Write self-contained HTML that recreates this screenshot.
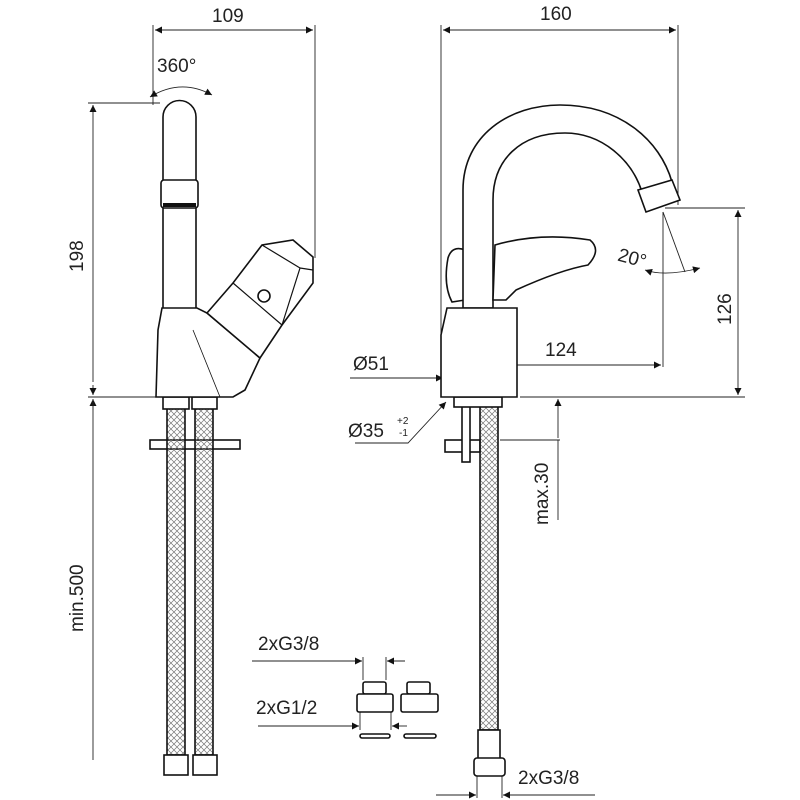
<!DOCTYPE html>
<html><head><style>html,body{margin:0;padding:0;background:#fff}svg{display:block}text{font-family:"Liberation Sans",sans-serif;fill:#222}</style></head>
<body>
<svg width="800" height="800" viewBox="0 0 800 800" xmlns="http://www.w3.org/2000/svg">
<defs>
<marker id="a" viewBox="0 0 10 10" refX="10" refY="5" markerWidth="10" markerHeight="7" orient="auto-start-reverse" markerUnits="userSpaceOnUse"><path d="M0,0L10,5L0,10z" fill="#111"/></marker>
<pattern id="br" width="6" height="6" patternUnits="userSpaceOnUse"><path d="M0,0L6,6M6,0L0,6" stroke="#777" stroke-width="0.7"/></pattern>
</defs>
<g stroke="#222" stroke-width="0.9" fill="none">
<line x1="153" y1="25" x2="153" y2="105"/><line x1="315" y1="25" x2="315" y2="258"/>
<line x1="155" y1="30" x2="313" y2="30" marker-start="url(#a)" marker-end="url(#a)"/>
<path d="M150,97 Q181,78 212,95" marker-start="url(#a)" marker-end="url(#a)"/>
<line x1="88" y1="103" x2="160" y2="103"/><line x1="88" y1="397" x2="160" y2="397"/>
<line x1="93" y1="105" x2="93" y2="382" marker-start="url(#a)"/>
<line x1="93" y1="385" x2="93" y2="395" marker-end="url(#a)"/>
<line x1="93" y1="399" x2="93" y2="410" marker-start="url(#a)"/>
<line x1="93" y1="400" x2="93" y2="760"/>
<line x1="441" y1="25" x2="441" y2="397"/><line x1="678" y1="25" x2="678" y2="205"/>
<line x1="443" y1="30" x2="676" y2="30" marker-start="url(#a)" marker-end="url(#a)"/>
<line x1="665" y1="208" x2="745" y2="208"/><line x1="520" y1="397" x2="745" y2="397"/>
<line x1="738" y1="210" x2="738" y2="395" marker-start="url(#a)" marker-end="url(#a)"/>
<line x1="663" y1="212" x2="663" y2="367"/><line x1="478" y1="360" x2="478" y2="400"/>
<line x1="480" y1="365" x2="661" y2="365" marker-start="url(#a)" marker-end="url(#a)"/>
<line x1="350" y1="378" x2="443" y2="378" marker-end="url(#a)"/>
<line x1="490" y1="378" x2="515" y2="378" marker-end="url(#a)"/>
<path d="M663,212 L685,272"/>
<path d="M645,270 Q665,277 700,268" marker-start="url(#a)" marker-end="url(#a)"/>
<path d="M355,443 L408,443 L446,402" marker-end="url(#a)"/>
<line x1="558" y1="399" x2="558" y2="438" marker-start="url(#a)"/>
<line x1="558" y1="440" x2="558" y2="520"/><line x1="500" y1="440" x2="560" y2="440"/>
<line x1="252" y1="661" x2="362" y2="661" marker-end="url(#a)"/><line x1="405" y1="661" x2="387" y2="661" marker-end="url(#a)"/>
<line x1="363" y1="657" x2="363" y2="680"/><line x1="386" y1="657" x2="386" y2="680"/>
<line x1="258" y1="726" x2="359" y2="726" marker-end="url(#a)"/><line x1="407" y1="726" x2="392" y2="726" marker-end="url(#a)"/>
<line x1="360" y1="712" x2="360" y2="730"/><line x1="391" y1="712" x2="391" y2="730"/>
<line x1="436" y1="795" x2="476" y2="795" marker-end="url(#a)"/><line x1="595" y1="795" x2="503" y2="795" marker-end="url(#a)"/>
<line x1="477" y1="775" x2="477" y2="798"/><line x1="502" y1="775" x2="502" y2="798"/>
</g>
<g stroke="#111" stroke-width="1.6" fill="#fff">
<rect x="150" y="440" width="90" height="9"/>
<rect x="167" y="400" width="18" height="355" fill="url(#br)"/>
<rect x="195" y="400" width="18" height="355" fill="url(#br)"/>
<rect x="163" y="397" width="26" height="12"/><rect x="192" y="397" width="25" height="12"/>
<rect x="164" y="755" width="24" height="20"/><rect x="193" y="755" width="24" height="20"/>
<path d="M163,310 L163,117 A16.5,16.5 0 0 1 196,117 L196,310 Z"/>
<rect x="161" y="180" width="37" height="28" rx="3"/>
<line x1="163" y1="205" x2="196" y2="205" stroke-width="4"/>
<path d="M162,308 L197,308 L207,313 L260,358 L245,390 L233,397 L156,397 L158,330 Z"/>
<path d="M207,313 L233,283 L262,245 L293,240 L313,257 L313,283 L282,325 L260,358 Z"/>
<path d="M233,283 L282,325 M262,245 L300,268 L282,325 M300,268 L313,270" stroke-width="1.2" fill="none"/>
<circle cx="264" cy="296" r="6"/>
<line x1="193" y1="330" x2="220" y2="397" stroke-width="0.8"/>
<rect x="445" y="440" width="35" height="12"/>
<rect x="462" y="400" width="8" height="62"/>
<rect x="480" y="400" width="18" height="330" fill="url(#br)"/>
<rect x="454" y="397" width="48" height="10"/>
<rect x="478" y="730" width="22" height="30"/>
<rect x="474" y="758" width="31" height="18" rx="3"/>
<path d="M448,258 Q452,245 465,250 L465,300 L452,302 Q443,285 448,258 Z"/>
<path d="M463,308 L463,190 C463,135 510,105 560,105 C620,105 660,140 672,182 L642,192 C632,160 602,133 565,133 C520,133 493,160 493,200 L493,308 Z"/>
<path d="M638,190 L672,180 L680,200 L646,212 Z"/>
<path d="M495,245 Q540,232 590,240 Q602,250 588,265 Q560,270 516,290 L506,300 L493,300 Z"/>
<path d="M447,308 L517,308 L517,397 L441,397 L441,335 Z"/>
<rect x="363" y="682" width="23" height="12" rx="2"/><rect x="357" y="694" width="36" height="18" rx="2"/>
<rect x="407" y="682" width="23" height="12" rx="2"/><rect x="401" y="694" width="37" height="18" rx="2"/>
<rect x="360" y="734" width="30" height="4" rx="2"/><rect x="404" y="734" width="32" height="4" rx="2"/>
</g>
<g font-size="19">
<text x="212" y="22">109</text>
<text x="157" y="72">360°</text>
<text x="540" y="20">160</text>
<text x="545" y="356">124</text>
<text x="353" y="370">Ø51</text>
<text x="348" y="437">Ø35</text><text x="397" y="424" font-size="10">+2</text><text x="399" y="436" font-size="10">-1</text>
<text x="618" y="265" transform="rotate(15 635 258)">20°</text>
<text x="258" y="650">2xG3/8</text>
<text x="256" y="714">2xG1/2</text>
<text x="518" y="784">2xG3/8</text>
<text transform="translate(83,272) rotate(-90)">198</text>
<text transform="translate(83,632) rotate(-90)">min.500</text>
<text transform="translate(731,325) rotate(-90)">126</text>
<text transform="translate(548,525) rotate(-90)">max.30</text>
</g>
</svg>
</body></html>
